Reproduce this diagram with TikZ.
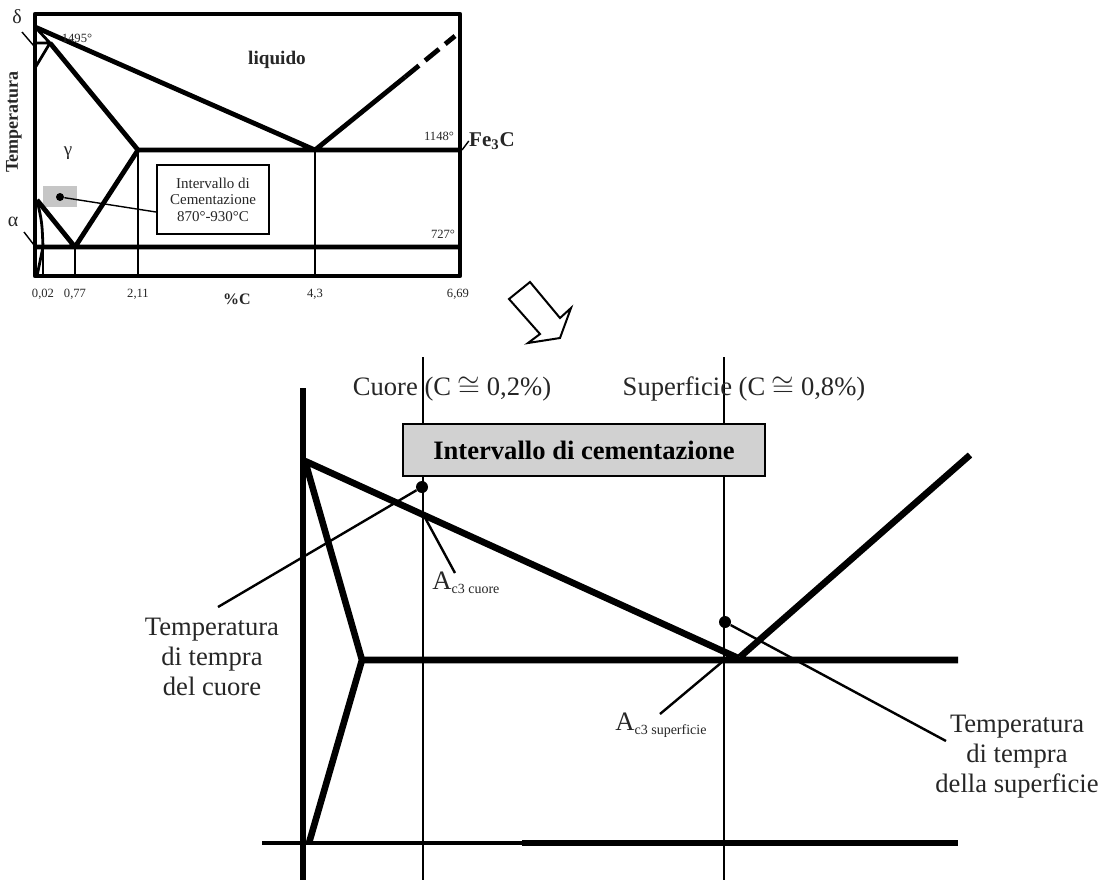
\documentclass[tikz,border=0pt]{standalone}
\usepackage{fontspec}
\setmainfont{Liberation Serif}
\usetikzlibrary{positioning,calc}
\newcommand{\smallnum}{\fontsize{6.3}{7.5}\selectfont}
\newcommand{\midtxt}{\fontsize{7.5}{8.3}\selectfont}
\newcommand{\bigtxt}{\fontsize{13.3}{15}\selectfont}
\tikzset{
  phase/.style={line width=2.4pt,line join=round},
  tie/.style={line width=0.8pt},
  leader/.style={line width=0.7pt},
  bigphase/.style={line width=3.3pt,line join=round},
  bigtie/.style={line width=1.3pt},
  bigleader/.style={line width=1.2pt},
  dot/.style={circle,fill=black,inner sep=0pt,minimum size=#1},
  dot/.default=4pt,
  lbl/.style={inner sep=0pt,text=black!85},
  biglbl/.style={lbl,font=\bigtxt,align=center},
}

\begin{document}
\begin{tikzpicture}[x=0.5pt,y=-0.5pt,font=\smallnum]
  \useasboundingbox (0,0) rectangle (1109,880);
  % --- small Fe-C diagram
  \coordinate (Fe)   at (35,27);
  \coordinate (peri) at (50,43);
  \coordinate (dlow) at (35,68);
  \coordinate (E)    at (138,150);
  \coordinate (C)    at (315,150);
  \coordinate (A3)   at (37,200);
  \coordinate (S)    at (75,247);
  \coordinate (P)    at (43,247);
  \coordinate (liqR) at (405,77);
  \coordinate (liqT) at (455,36);
  \fill[gray!45] (43,186) rectangle (77,207);
  \draw[tie] (E) -- (138,276) (C) -- (315,276) (S) -- (75,276) (P) -- (43,276);
  \draw[phase] (Fe) -- (C) (peri) -- (E) -- (S) -- (A3) (E) -- (460,150)
    (35,247) -- (460,247) (C) -- (liqR);
  \draw[phase,dash pattern=on 9pt off 4pt] (liqR) -- (liqT);
  \draw[line width=1.4pt] (Fe) -- (peri) -- (dlow) (37,43) -- (peri)
    (A3) .. controls (42,222) .. (P) -- (37,276);
  \draw[phase] (35,14) rectangle (460,276);
  \node[lbl] (t1495) at (77,38) {1495°};
  \node[lbl,font=\fontsize{9.6}{11}\selectfont\bfseries] (liq) at (277,60) {liquido};
  \node[lbl] (t1148) at (439,136) {1148°};
  \node[lbl] (t727) at (443,234) {727°};
  \node[lbl,font=\fontsize{9.5}{11}\selectfont] (gam) at (68,153) {γ};
  \node[lbl,font=\fontsize{10}{11}\selectfont] (del) at (17,17) {δ};
  \node[lbl,font=\fontsize{10}{11}\selectfont] (alp) at (13,222) {α};
  \node[lbl,font=\fontsize{10.5}{12}\selectfont\bfseries] (cem) at (492,141) {Fe$_{\mathbf 3}$C};
  \node[lbl,font=\fontsize{9}{10}\selectfont\bfseries,rotate=90] (ytit) at (14,122) {Temperatura};
  \draw[leader] (22,32) -- (34,46) (24,232) -- (34,245) (cem.west) -- (462,150);
  \node[draw,line width=1pt,minimum width=56pt,minimum height=34.5pt,align=center,
        font=\midtxt,text=black!85] (box) at (213,199.5)
    {Intervallo di\\Cementazione\\870°-930°C};
  \node[dot] (pt) at (60,197) {};
  \draw[leader] (pt) -- (box.west |- 0,212);
  \foreach \x/\t/\n in {43/{0,02}/a,75/{0,77}/b,138/{2,11}/c,315/{4,3}/d,458/{6,69}/e}
    \node[lbl] (ax\n) at (\x,294) {\t};
  \node[lbl,font=\fontsize{8}{9}\selectfont\bfseries] (pc) at (237,299) {\%C};
  % --- hollow arrow
  \draw[line width=1pt,line join=miter] (509,299) -- (530,282) -- (560,318) -- (571,308)
    -- (560,338) -- (528,343) -- (540,334) -- cycle;
  % --- enlarged detail
  \coordinate (top)  at (305,461);
  \coordinate (kink) at (362,660);
  \coordinate (eut)  at (738,658);
  \coordinate (acc)  at (423,514);
  \coordinate (acs)  at (728,657);
  \draw[bigtie] (423,357) -- (423,880) (724,357) -- (724,880);
  \draw[line width=2pt] (262,843) -- (522,843);
  \draw[bigphase] (522,843) -- (958,843);
  \draw[bigphase] (303,388) -- (303,880);
  \draw[bigphase] (top) -- (eut) (top) -- (kink) -- (309,843) (kink) -- (958,660)
    (740,657) -- (970,455);
  \node[biglbl] (cuore) at (452,389) {Cuore (C $\cong$ 0,2\%)};
  \node[biglbl] (sup) at (744,389) {Superficie (C $\cong$ 0,8\%)};
  \node[draw,line width=1.3pt,fill=black!18,minimum width=181pt,minimum height=26pt,
        font=\bigtxt\bfseries,inner sep=0pt] (ibox) at (584,450) {Intervallo di cementazione};
  \node[dot=6pt] (dc) at (422,487) {};
  \node[dot=6pt] (ds) at (725,622) {};
  \node[biglbl] (tc) at (212,657) {Temperatura\\di tempra\\del cuore};
  \node[biglbl] (ts) at (1017,757) {Temperatura\\di tempra\\della superficie};
  \node[lbl,anchor=west,font=\bigtxt] (ac) at (432,583)
    {A\raisebox{-0.3ex}{\fontsize{7}{8}\selectfont c3 cuore}};
  \node[lbl,anchor=west,font=\bigtxt] (as) at (615,725)
    {A\raisebox{-0.3ex}{\fontsize{7}{8}\selectfont c3 superficie}};
  \draw[bigleader] (dc) -- (218,607);
  \draw[bigleader] (ds) -- (946,741);
  \draw[bigleader] (acc) -- (455,573);
  \draw[bigleader] (660,714) -- (acs);
\end{tikzpicture}
\end{document}
